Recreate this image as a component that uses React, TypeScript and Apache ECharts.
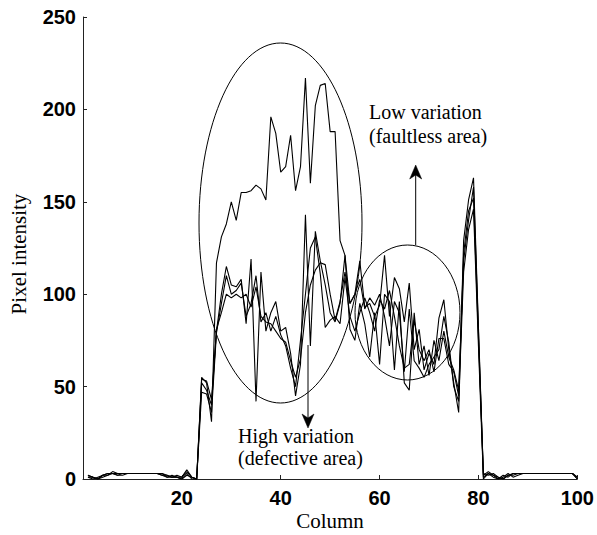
import React, { useEffect, useRef } from "react";
import * as echarts from "echarts";

// Pixel intensity profiles along columns 1..100 (four scan lines)
const SERIES_1 = [
  2, 1, 0, 2, 3, 3, 2, 3, 3, 3,
  3, 3, 3, 3, 3, 2, 1, 2, 1, 1,
  5, 1, 0,
  55, 52, 31,
  117, 131, 138, 150, 140, 155, 155, 156, 159, 157,
  151, 196, 187, 166, 169, 186, 156, 169, 217, 160,
  202, 213, 214, 188, 188, 129, 121, 95, 100,
  118, 93, 95, 88, 94, 121, 88, 109, 103, 85,
  106, 70, 81, 59, 68, 62, 87, 97, 70, 52,
  36, 129, 151, 163, 82, 2,
  4, 2, 1, 0, 2, 2, 3, 3, 3, 3,
  3, 3, 3, 3, 3, 3, 3, 3, 0,
];
const SERIES_2 = [
  1, 0, 1, 2, 2, 3, 3, 3, 3, 3,
  3, 3, 3, 3, 3, 3, 2, 1, 1, 0,
  3, 0, 0,
  54, 53, 43,
  80, 100, 115, 105, 104, 108, 84, 119, 42, 112,
  80, 90, 96, 80, 82, 68, 45, 62, 143, 72,
  134, 118, 105, 90, 85, 95, 121, 81, 75,
  95, 84, 66, 90, 62, 100, 96, 59, 96, 52,
  48, 90, 62, 72, 56, 75, 64, 80, 66, 59,
  48, 118, 140, 158, 80, 1,
  3, 1, 0, 1, 3, 1, 2, 3, 3, 3,
  3, 3, 3, 3, 3, 3, 3, 3, 1,
];
const SERIES_3 = [
  2, 1, 0, 1, 2, 4, 3, 3, 3, 3,
  3, 3, 3, 3, 3, 3, 1, 1, 2, 1,
  4, 1, 0,
  47, 46, 36,
  79, 95, 110, 100, 102, 106, 88, 95, 110, 85,
  90, 80, 88, 78, 72, 60, 50, 75, 100, 125,
  131, 111, 82, 86, 88, 84, 109, 88, 80,
  90, 98, 90, 80, 97, 92, 102, 88, 72, 60,
  62, 86, 70, 64, 70, 58, 76, 76, 62, 58,
  45, 122, 145, 152, 76, 3,
  2, 3, 1, 0, 2, 3, 3, 3, 3, 3,
  3, 3, 3, 3, 3, 3, 3, 3, 0,
];
const SERIES_4 = [
  1, 1, 0, 2, 3, 3, 2, 2, 3, 3,
  3, 3, 3, 3, 3, 2, 2, 1, 1, 0,
  2, 1, 0,
  52, 48, 40,
  81, 90, 100, 98, 100, 98, 100, 93, 104, 88,
  85, 84, 80, 76, 74, 64, 55, 65, 90, 105,
  113, 117, 116, 100, 86, 96, 112, 95, 100,
  108, 92, 98, 94, 100, 88, 72, 96, 90, 58,
  92, 64, 60, 55, 62, 66, 70, 88, 74, 50,
  42, 112, 135, 146, 72, 0,
  3, 2, 0, 2, 1, 3, 3, 3, 3, 3,
  3, 3, 3, 3, 3, 3, 3, 3, 1,
];
const ALL_SERIES = [SERIES_1, SERIES_2, SERIES_3, SERIES_4];

const X_MIN = 0;
const X_MAX = 100;
const X_STEP = 20;
const Y_MIN = 0;
const Y_MAX = 250;
const Y_STEP = 50;

const X_TITLE = "Column";
const Y_TITLE = "Pixel intensity";
const LOW_TEXT = ["Low variation", "(faultless area)"];
const HIGH_TEXT = ["High variation", "(defective area)"];

const SERIF = '"Liberation Serif", "Times New Roman", serif';
const SANS = '"Liberation Sans", Arial, sans-serif';

function arrowHead(x: number, tipY: number, dir: number) {
  // dir = 1 pointing down, -1 pointing up
  const len = 14;
  const half = 6;
  return [
    [x, tipY],
    [x - half, tipY - dir * len],
    [x, tipY - dir * (len - 4)],
    [x + half, tipY - dir * len],
  ];
}

export default function App() {
  const ref = useRef<HTMLDivElement>(null);

  useEffect(() => {
    if (!ref.current) return;
    const chart = echarts.init(ref.current, null, { renderer: "svg" });
    const stroke = { stroke: "#000", lineWidth: 1, fill: "none" };
    const annot = (text: string, x: number, y: number) => ({
      type: "text",
      x,
      y,
      style: { text, font: `20px ${SERIF}`, fill: "#000", align: "left", verticalAlign: "middle" },
    });

    chart.setOption({
      animation: false,
      backgroundColor: "#fff",
      grid: { left: 83, top: 17, right: 19, bottom: 56, containLabel: false },
      xAxis: {
        type: "value",
        min: X_MIN,
        max: X_MAX,
        interval: X_STEP,
        axisLine: { show: true, lineStyle: { color: "#222", width: 1 } },
        axisTick: { show: true, inside: true, length: 4, lineStyle: { color: "#222" } },
        splitLine: { show: false },
        axisLabel: {
          showMinLabel: false,
          margin: 9,
          color: "#000",
          fontFamily: SANS,
          fontWeight: "bold",
          fontSize: 20,
        },
      },
      yAxis: {
        type: "value",
        min: Y_MIN,
        max: Y_MAX,
        interval: Y_STEP,
        axisLine: { show: true, lineStyle: { color: "#222", width: 1 } },
        axisTick: { show: true, inside: true, length: 4, lineStyle: { color: "#222" } },
        splitLine: { show: false },
        axisLabel: {
          margin: 7,
          color: "#000",
          fontFamily: SANS,
          fontWeight: "bold",
          fontSize: 20,
        },
      },
      series: ALL_SERIES.map((s, k) => ({
        type: "line",
        name: "line" + (k + 1),
        data: s.map((v, i) => [i + 1, v]),
        showSymbol: false,
        symbol: "none",
        lineStyle: { color: "#000", width: 1.1 },
        z: 3,
      })),
      graphic: [
        { type: "ellipse", shape: { cx: 280.5, cy: 223, rx: 81.5, ry: 180 }, style: stroke, silent: true },
        { type: "ellipse", shape: { cx: 407.5, cy: 312.5, rx: 52.5, ry: 67.5 }, style: stroke, silent: true },
        { type: "line", shape: { x1: 308, y1: 345, x2: 308, y2: 420 }, style: { stroke: "#000", lineWidth: 1 } },
        { type: "polygon", shape: { points: arrowHead(308, 428, 1) }, style: { fill: "#000", stroke: "#000", lineWidth: 0.5 } },
        { type: "line", shape: { x1: 415.7, y1: 245, x2: 415.7, y2: 173 }, style: { stroke: "#000", lineWidth: 1 } },
        { type: "polygon", shape: { points: arrowHead(415.7, 165, -1) }, style: { fill: "#000", stroke: "#000", lineWidth: 0.5 } },
        annot(LOW_TEXT[0], 369, 112),
        annot(LOW_TEXT[1], 369, 136),
        annot(HIGH_TEXT[0], 238, 436),
        annot(HIGH_TEXT[1], 238, 458),
        { type: "text", x: 330, y: 521, style: { text: X_TITLE, font: `21px ${SERIF}`, fill: "#000", align: "center", verticalAlign: "middle" } },
        { type: "text", x: 19, y: 254, rotation: Math.PI / 2, style: { text: Y_TITLE, font: `21px ${SERIF}`, fill: "#000", align: "center", verticalAlign: "middle" } },
      ],
    });

    return () => chart.dispose();
  }, []);

  return (
    <div
      ref={ref}
      style={{ position: "fixed", left: 0, top: 0, width: 597, height: 535, background: "#fff" }}
    />
  );
}
